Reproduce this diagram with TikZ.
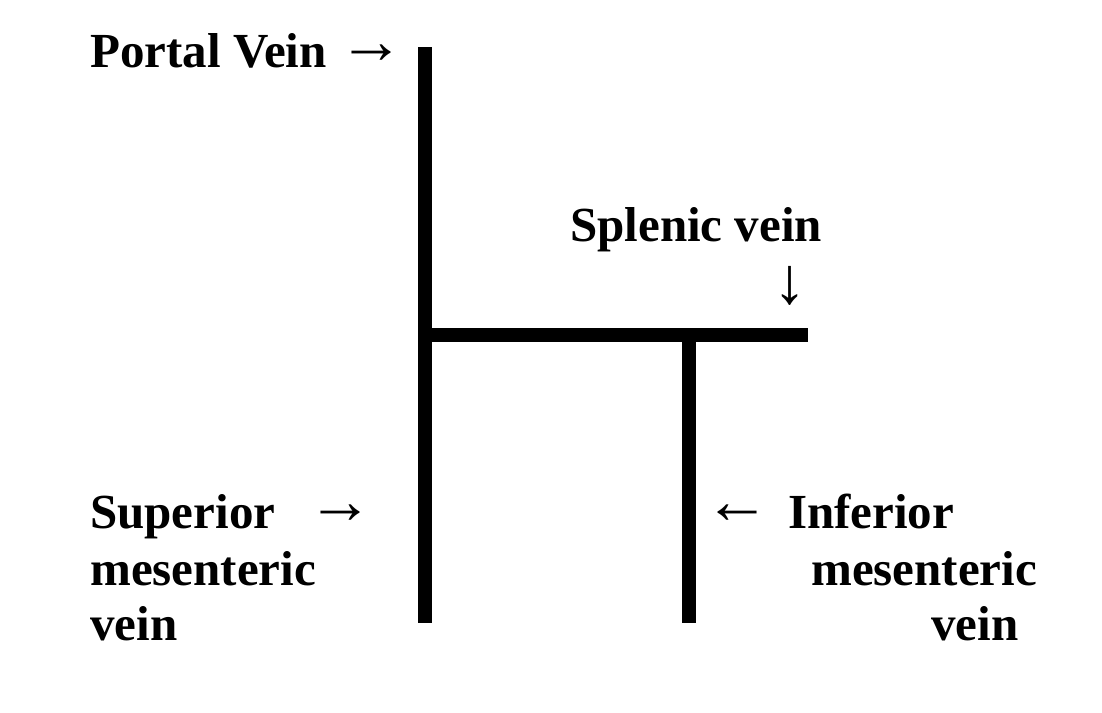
\documentclass[tikz,border=0pt]{standalone}
\usepackage{fontspec}
\setmainfont{Liberation Serif}
\begin{document}
\begin{tikzpicture}[x=1pt,y=-1pt,
  lbl/.style={inner sep=0pt,anchor=base west,font=\fontsize{49}{56}\selectfont\bfseries},
  arr/.style={inner sep=0pt,anchor=center,font=\fontsize{66}{70}\selectfont\mdseries},
  vein/.style={line width=14.5pt,line cap=butt}]
\useasboundingbox (0,0) rectangle (1102,712);
% vein lines
\coordinate (pvtop) at (425,47);
\coordinate (smvbot) at (425,623);
\coordinate (junc) at (425,335);
\coordinate (svend) at (808,335);
\coordinate (imvtop) at (689,335);
\coordinate (imvbot) at (689,623);
\draw[vein] (pvtop) -- (smvbot);
\draw[vein] (junc) -- (svend);
\draw[vein] (imvtop) -- (imvbot);
% labels
\node[lbl] (portal) at (90,67) {Portal Vein};
\node[arr] (portalarr) at (371.5,54) {→};
\node[lbl] (splenic) at (570,241) {Splenic vein};
\node[arr] (splenicarr) at (790,286) {↓};
\node[lbl] (sup1) at (90,528) {Superior};
\node[arr] (suparr) at (340.5,514) {→};
\node[lbl] (sup2) at (90,585) {mesenteric};
\node[lbl] (sup3) at (90,640) {vein};
\node[arr] (infarr) at (737,514) {←};
\node[lbl] (inf1) at (788,528) {Inferior};
\node[lbl] (inf2) at (811,585) {mesenteric};
\node[lbl] (inf3) at (931,640) {vein};
\end{tikzpicture}
\end{document}
